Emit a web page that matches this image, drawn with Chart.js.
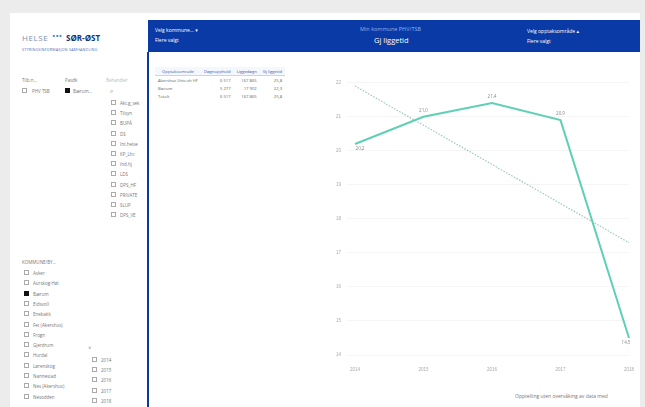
<!DOCTYPE html>
<html>
<head>
<meta charset="utf-8">
<script src="https://cdn.jsdelivr.net/npm/chart.js@4/dist/chart.umd.min.js"></script>
<style>
  html, body { margin: 0; padding: 0; }
  body { width: 645px; height: 407px; background: #ececec; position: relative; overflow: hidden;
         font-family: "Open Sans", "DejaVu Sans", sans-serif; color: #666; }
  .abs { position: absolute; }
  #page { left: 10px; top: 13px; width: 630px; height: 394px; background: #fff; }
  #left { left: 10px; top: 13px; width: 136px; height: 394px; background: #fff; }
  #topbar { left: 148px; top: 20px; width: 492px; height: 32px; background: #0a3aa5; }
  #vline { left: 147px; top: 52px; width: 2px; height: 355px; background: #0a3aa5; }
  .hw { color: #fff; font-size: 5px; white-space: nowrap; }
  .tiny { font-size: 4.5px; white-space: nowrap; color: #777; }
  .cb { width: 5px; height: 5px; border: 0.7px solid #aaa; box-sizing: border-box; background: #fff; }
  .cb.on { background: #111; border-color: #111; }
  table { border-collapse: collapse; font-size: 4.2px; color: #666; }
  th { color: #3a5fb0; font-weight: normal; padding: 1.5px 3px; border-bottom: 0.6px solid #c8d4ee; background: #f4f7fd; }
  td { padding: 1.6px 3px; text-align: right; }
  td:first-child { text-align: left; }
  #chartBox { left: 335px; top: 74px; width: 303px; height: 298px; }
</style>
</head>
<body>
<div id="page" class="abs"></div>
<div id="left" class="abs"></div>

<!-- logo -->
<div class="abs" style="left:22px;top:32px;font-size:8px;color:#7d8db0;letter-spacing:0.6px;">HELSE</div>
<div class="abs" style="left:52px;top:29px;font-size:9px;color:#3d7fd0;">&#8226;&#8226;&#8226;</div>
<div class="abs" style="left:66px;top:32px;font-size:8px;color:#12357a;font-weight:bold;">SØR-ØST</div>
<div class="abs tiny" style="left:22px;top:47px;font-size:3.6px;color:#3d6fc0;letter-spacing:0.25px;">STYRINGSINFORMASJON SAMHANDLING</div>

<!-- top slicers -->
<div class="abs tiny" style="left:22px;top:77px;">Tilb.n...</div>
<div class="abs tiny" style="left:65px;top:77px;">Pasdk</div>
<div class="abs tiny" style="left:106px;top:77px;color:#bbb;">Behandler</div>
<div class="abs cb" style="left:22px;top:88px;"></div>
<div class="abs tiny" style="left:32px;top:88px;">PHV TSB</div>
<div class="abs cb on" style="left:65px;top:88px;"></div>
<div class="abs tiny" style="left:73px;top:88px;">Bærum...</div>
<div class="abs tiny" style="left:110px;top:87px;font-size:6px;">&#8981;</div>
<div id="behList"></div>

<!-- kommune slicer -->
<div class="abs tiny" style="left:22px;top:259px;">KOMMUNE/BY...</div>
<div id="komList"></div>
<div class="abs tiny" style="left:88px;top:344px;">&#8744;</div>
<div id="yearList"></div>

<!-- header bar -->
<div id="topbar" class="abs"></div>
<div id="vline" class="abs"></div>
<div class="abs hw" style="left:155px;top:27px;">Velg kommune... &#9662;</div>
<div class="abs hw" style="left:155px;top:37px;">Flere valgt</div>
<div class="abs hw" style="left:360px;top:25px;color:#8fb0ee;font-size:5.5px;">Min kommune PHV/TSB</div>
<div class="abs hw" style="left:374px;top:35px;font-size:7.5px;">Gj liggetid</div>
<div class="abs hw" style="left:527px;top:28px;">Velg opptaksområde &#9652;</div>
<div class="abs hw" style="left:527px;top:38px;">Flere valgt</div>

<!-- table -->
<div class="abs" style="left:155px;top:67px;">
  <table id="tbl"></table>
</div>

<div id="chartBox" class="abs"><canvas id="c" width="303" height="298"></canvas></div>

<div class="abs tiny" style="left:515px;top:393px;font-size:5px;">Opptelling uten overvåking av data med</div>

<script>
const years = ['2014', '2015', '2016', '2017', '2018'];
const liggetid = [20.2, 21.0, 21.4, 20.9, 14.5];
const trend = [21.9, 20.75, 19.6, 18.45, 17.3];
const yTicks = [14, 15, 16, 17, 18, 19, 20, 21, 22];

const behandlere = ['Akt.g_sek', 'Tilsyn', 'BUPÅ', 'DS', 'Int.helse', 'KP_Lhc', 'Ind.hj', 'LDS', 'DPS_HF', 'PRIVATE', 'SLUP', 'DPS_VE'];
const kommuner = ['Asker', 'Aurskog-Høl', 'Bærum', 'Eidsvoll', 'Enebakk', 'Fet (Akershus)', 'Frogn', 'Gjerdrum', 'Hurdal', 'Lørenskog', 'Nannestad', 'Nes (Akershus)', 'Nesodden'];
const valgtKommune = 'Bærum';
const tabellHode = ['Opptaksområde', 'Døgnopphold', 'Liggedøgn', 'Gj liggetid'];
const tabellRader = [
  ['Akershus Univ.sh HF', '6 517', '167 865', '25,8'],
  ['Bærum', '5 277', '17 902', '22,3'],
  ['Totalt', '6 517', '167 865', '25,8']
];

function addItems(id, items, x, y0, step, selected) {
  const host = document.getElementById(id);
  items.forEach((t, i) => {
    const y = y0 + i * step;
    const b = document.createElement('div');
    b.className = 'abs cb' + (t === selected ? ' on' : '');
    b.style.left = x + 'px'; b.style.top = y + 'px';
    const l = document.createElement('div');
    l.className = 'abs tiny';
    l.style.left = (x + 9) + 'px'; l.style.top = y + 'px';
    l.textContent = t;
    host.appendChild(b); host.appendChild(l);
  });
}
addItems('behList', behandlere, 111, 100, 10.2);
addItems('komList', kommuner, 24, 270, 10.3, valgtKommune);
addItems('yearList', years, 92, 357, 10.2);

const tbl = document.getElementById('tbl');
tbl.innerHTML = '<tr>' + tabellHode.map(h => '<th>' + h + '</th>').join('') + '</tr>' +
  tabellRader.map(r => '<tr>' + r.map(v => '<td>' + v + '</td>').join('') + '</tr>').join('');

const labelPlugin = {
  id: 'pointLabels',
  afterDatasetsDraw(chart) {
    const ctx = chart.ctx;
    const meta = chart.getDatasetMeta(0);
    ctx.save();
    ctx.font = '4.5px "Open Sans", sans-serif';
    ctx.fillStyle = '#888';
    ctx.textAlign = 'center';
    meta.data.forEach((pt, i) => {
      const txt = liggetid[i].toFixed(1).replace('.', ',');
      let dx = 0, dy = -5;
      if (i === 0) { dx = 5; dy = 6; }
      if (i === meta.data.length - 1) { dx = -3; dy = 6; }
      ctx.fillText(txt, pt.x + dx, pt.y + dy);
    });
    ctx.restore();
  }
};

new Chart(document.getElementById('c'), {
  type: 'line',
  data: {
    labels: years,
    datasets: [
      {
        label: 'Gj liggetid',
        data: liggetid,
        borderColor: '#5fd0b4',
        borderWidth: 2,
        pointRadius: 0,
        tension: 0
      },
      {
        label: 'Trend',
        data: trend,
        borderColor: '#9cc8bc',
        borderWidth: 1.2,
        borderDash: [1.5, 1.5],
        pointRadius: 0,
        tension: 0
      }
    ]
  },
  options: {
    responsive: false,
    animation: false,
    layout: { padding: { top: 5, right: 6, left: 0, bottom: 0 } },
    plugins: { legend: { display: false }, tooltip: { enabled: false } },
    scales: {
      x: {
        grid: { display: false },
        border: { display: false },
        ticks: { color: '#aaa', font: { size: 4.5 }, padding: 4, maxRotation: 0 },
        afterFit: s => { s.height = 17; }
      },
      y: {
        min: yTicks[0],
        max: yTicks[yTicks.length - 1],
        afterBuildTicks: s => { s.ticks = yTicks.map(v => ({ value: v })); },
        grid: { color: '#f2f2f2', lineWidth: 0.8 },
        border: { display: false },
        ticks: { color: '#aaa', font: { size: 4.5 }, padding: 6 },
        afterFit: s => { s.width = 20; }
      }
    }
  }
  ,
  plugins: [labelPlugin]
});
</script>
</body>
</html>
